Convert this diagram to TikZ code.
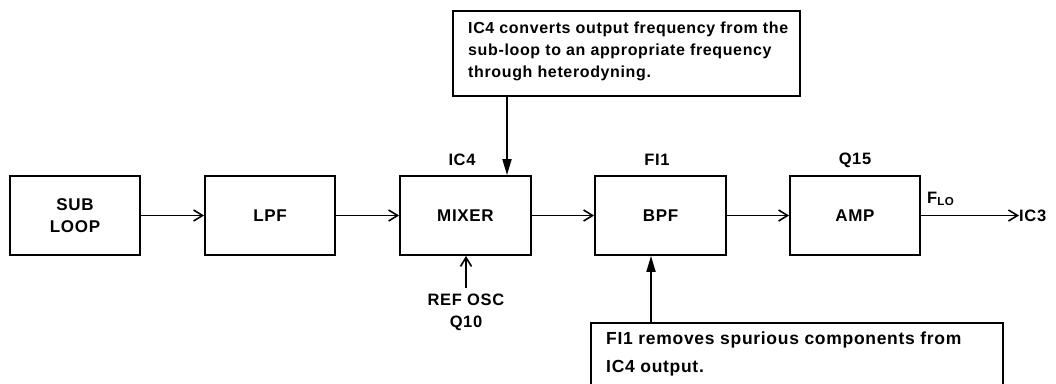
\documentclass[tikz,border=0pt]{standalone}
\usepackage{fontspec}
\setmainfont{Liberation Sans}[LetterSpace=4]
\usetikzlibrary{arrows.meta}
\begin{document}
\begin{tikzpicture}[x=1pt,y=-1pt,
  blk/.style={draw, line width=1.8pt, minimum width=130pt, minimum height=79pt, inner sep=0pt, font=\bfseries\fontsize{17}{22}\selectfont, align=center},
  lbl/.style={font=\bfseries\fontsize{16.5}{22}\selectfont, inner sep=1pt, align=center},
  notetext/.style={font=\bfseries\fontsize{16}{22}\selectfont, align=left, anchor=north west, inner sep=0pt},
  sig/.style={line width=1.8pt, -{Straight Barb[length=9pt,width=11pt,line width=1.6pt]}},
  tri/.style={line width=1.8pt, -{Triangle[length=16pt,width=9pt]}}
]
\clip (0,0) rectangle (1056,383);
\useasboundingbox (0,0) rectangle (1056,383);

\node[blk] (sub) at (75,215.5) {SUB\\LOOP};
\node[blk] (lpf) at (270,215.5) {LPF};
\node[blk, minimum width=131pt] (mix) at (465.5,215.5) {MIXER};
\node[blk, minimum width=131pt] (bpf) at (660.5,215.5) {BPF};
\node[blk] (amp) at (855,215.5) {AMP};

\node[lbl] (ic4) at (462,160) {IC4};
\node[lbl] (fi1) at (657,160) {FI1};
\node[lbl] (q15) at (855,160) {Q15};
\node[lbl, anchor=west] (flo) at (926,199) {F\textsubscript{LO}};
\node[lbl, anchor=west, inner sep=0pt] (ic3) at (1019,215.5) {IC3};
\node[lbl] (ref) at (466,312) {REF OSC\\Q10};

\draw[sig] (sub.east) -- (lpf.west);
\draw[sig] (lpf.east) -- (mix.west);
\draw[sig] (mix.east) -- (bpf.west);
\draw[sig] (bpf.east) -- (amp.west);
\draw[sig] (amp.east) -- (amp.east -| ic3.west);
\coordinate (refin) at (466,288);
\draw[sig] (refin) -- (mix.south -| refin);

% top note
\draw[line width=1.8pt] (453,11) rectangle (800,96);
\coordinate (topnote) at (507,96);
\node[notetext] (t1) at (468,22) {IC4 converts output frequency from the\\sub-loop to an appropriate frequency\\through heterodyning.};
\draw[tri] (topnote) -- (mix.north -| topnote);

% bottom note
\draw[line width=1.8pt] (591,395) -- (591,323) -- (1003,323) -- (1003,395);
\coordinate (botnote) at (651,323);
\node[notetext, font=\bfseries\fontsize{17.5}{27.5}\selectfont] (t2) at (606,332) {FI1 removes spurious components from\\IC4 output.};
\draw[tri] (botnote) -- (bpf.south -| botnote);
\end{tikzpicture}
\end{document}
